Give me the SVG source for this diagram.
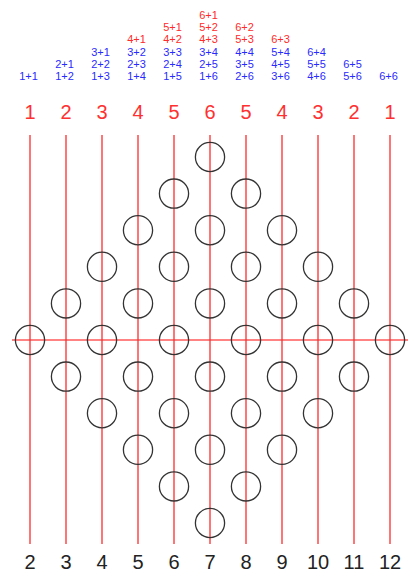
<svg xmlns="http://www.w3.org/2000/svg" width="410" height="574" viewBox="0 0 410 574">
<style>
.v{stroke:#ff2a2a;stroke-width:1.3}
.h{stroke:#ff5a5a;stroke-width:1.5}
.c{fill:none;stroke:#333;stroke-width:1.3}
.t{font-family:"Liberation Sans",sans-serif;font-size:20px;text-anchor:middle}
.top{fill:#ff3030}
.bot{fill:#222}
.s{font-family:"Liberation Sans",sans-serif;font-size:11px;text-anchor:middle}
.r{fill:#ff2a2a}
.b{fill:#2a2aff}
</style>
<g id="connectors">
<line class="h" x1="12" y1="340" x2="408" y2="340"/>
<line class="v" x1="30" y1="135" x2="30" y2="544"/>
<line class="v" x1="66" y1="135" x2="66" y2="544"/>
<line class="v" x1="102" y1="135" x2="102" y2="544"/>
<line class="v" x1="138" y1="135" x2="138" y2="544"/>
<line class="v" x1="174" y1="135" x2="174" y2="544"/>
<line class="v" x1="210" y1="135" x2="210" y2="544"/>
<line class="v" x1="246" y1="135" x2="246" y2="544"/>
<line class="v" x1="282" y1="135" x2="282" y2="544"/>
<line class="v" x1="318" y1="135" x2="318" y2="544"/>
<line class="v" x1="354" y1="135" x2="354" y2="544"/>
<line class="v" x1="390" y1="135" x2="390" y2="544"/>
</g>
<g id="top-labels" class="t top">
<text x="30" y="119">1</text><text x="66" y="119">2</text><text x="102" y="119">3</text><text x="138" y="119">4</text><text x="174" y="119">5</text><text x="210" y="119">6</text><text x="246" y="119">5</text><text x="282" y="119">4</text><text x="318" y="119">3</text><text x="354" y="119">2</text><text x="390" y="119">1</text>
</g>
<g id="bottom-labels" class="t bot">
<text x="30" y="569">2</text><text x="66" y="569">3</text><text x="102" y="569">4</text><text x="138" y="569">5</text><text x="174" y="569">6</text><text x="210" y="569">7</text><text x="246" y="569">8</text><text x="282" y="569">9</text><text x="318" y="569">10</text><text x="354" y="569">11</text><text x="390" y="569">12</text>
</g>
<g id="sums" class="s">
<text class="b" x="28.5" y="80">1+1</text>
<text class="b" x="64.5" y="80">1+2</text><text class="b" x="64.5" y="67.8">2+1</text>
<text class="b" x="100.5" y="80">1+3</text><text class="b" x="100.5" y="67.8">2+2</text><text class="b" x="100.5" y="55.6">3+1</text>
<text class="b" x="136.5" y="80">1+4</text><text class="b" x="136.5" y="67.8">2+3</text><text class="b" x="136.5" y="55.6">3+2</text><text class="r" x="136.5" y="43.4">4+1</text>
<text class="b" x="172.5" y="80">1+5</text><text class="b" x="172.5" y="67.8">2+4</text><text class="b" x="172.5" y="55.6">3+3</text><text class="r" x="172.5" y="43.4">4+2</text><text class="r" x="172.5" y="31.2">5+1</text>
<text class="b" x="208.5" y="80">1+6</text><text class="b" x="208.5" y="67.8">2+5</text><text class="b" x="208.5" y="55.6">3+4</text><text class="r" x="208.5" y="43.4">4+3</text><text class="r" x="208.5" y="31.2">5+2</text><text class="r" x="208.5" y="19">6+1</text>
<text class="b" x="244.5" y="80">2+6</text><text class="b" x="244.5" y="67.8">3+5</text><text class="b" x="244.5" y="55.6">4+4</text><text class="r" x="244.5" y="43.4">5+3</text><text class="r" x="244.5" y="31.2">6+2</text>
<text class="b" x="280.5" y="80">3+6</text><text class="b" x="280.5" y="67.8">4+5</text><text class="b" x="280.5" y="55.6">5+4</text><text class="r" x="280.5" y="43.4">6+3</text>
<text class="b" x="316.5" y="80">4+6</text><text class="b" x="316.5" y="67.8">5+5</text><text class="b" x="316.5" y="55.6">6+4</text>
<text class="b" x="352.5" y="80">5+6</text><text class="b" x="352.5" y="67.8">6+5</text>
<text class="b" x="388.5" y="80">6+6</text>
</g>
<g id="col2"><circle class="c" cx="30" cy="340" r="14.6"/></g>
<g id="col3"><circle class="c" cx="66" cy="303.4" r="14.6"/><circle class="c" cx="66" cy="376.6" r="14.6"/></g>
<g id="col4"><circle class="c" cx="102" cy="266.8" r="14.6"/><circle class="c" cx="102" cy="340" r="14.6"/><circle class="c" cx="102" cy="413.2" r="14.6"/></g>
<g id="col5"><circle class="c" cx="138" cy="230.2" r="14.6"/><circle class="c" cx="138" cy="303.4" r="14.6"/><circle class="c" cx="138" cy="376.6" r="14.6"/><circle class="c" cx="138" cy="449.8" r="14.6"/></g>
<g id="col6"><circle class="c" cx="174" cy="193.6" r="14.6"/><circle class="c" cx="174" cy="266.8" r="14.6"/><circle class="c" cx="174" cy="340" r="14.6"/><circle class="c" cx="174" cy="413.2" r="14.6"/><circle class="c" cx="174" cy="486.4" r="14.6"/></g>
<g id="col7"><circle class="c" cx="210" cy="157" r="14.6"/><circle class="c" cx="210" cy="230.2" r="14.6"/><circle class="c" cx="210" cy="303.4" r="14.6"/><circle class="c" cx="210" cy="376.6" r="14.6"/><circle class="c" cx="210" cy="449.8" r="14.6"/><circle class="c" cx="210" cy="523" r="14.6"/></g>
<g id="col8"><circle class="c" cx="246" cy="193.6" r="14.6"/><circle class="c" cx="246" cy="266.8" r="14.6"/><circle class="c" cx="246" cy="340" r="14.6"/><circle class="c" cx="246" cy="413.2" r="14.6"/><circle class="c" cx="246" cy="486.4" r="14.6"/></g>
<g id="col9"><circle class="c" cx="282" cy="230.2" r="14.6"/><circle class="c" cx="282" cy="303.4" r="14.6"/><circle class="c" cx="282" cy="376.6" r="14.6"/><circle class="c" cx="282" cy="449.8" r="14.6"/></g>
<g id="col10"><circle class="c" cx="318" cy="266.8" r="14.6"/><circle class="c" cx="318" cy="340" r="14.6"/><circle class="c" cx="318" cy="413.2" r="14.6"/></g>
<g id="col11"><circle class="c" cx="354" cy="303.4" r="14.6"/><circle class="c" cx="354" cy="376.6" r="14.6"/></g>
<g id="col12"><circle class="c" cx="390" cy="340" r="14.6"/></g>
</svg>
